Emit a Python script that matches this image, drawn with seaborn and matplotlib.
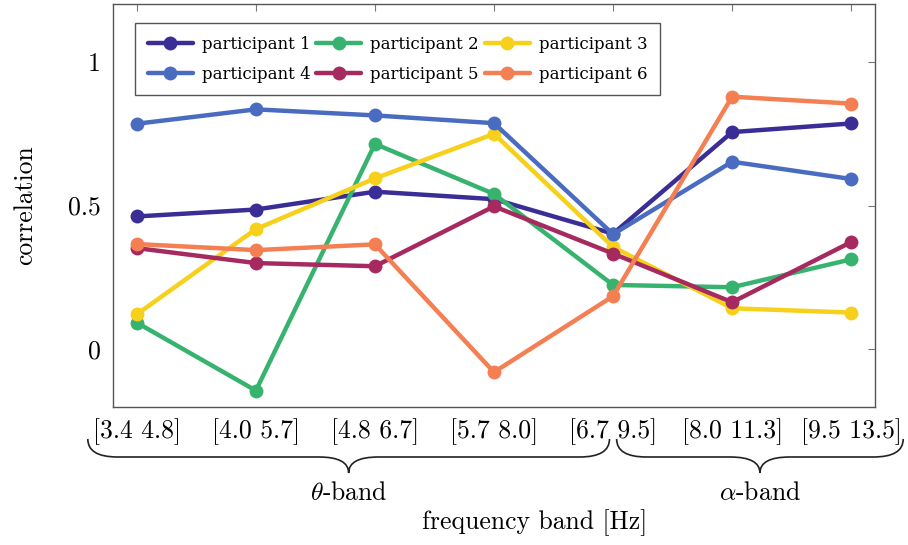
import numpy as np
import pandas as pd
import matplotlib
matplotlib.use("Agg")
import matplotlib.pyplot as plt
import matplotlib.transforms as mtransforms
from matplotlib.path import Path
from matplotlib.patches import PathPatch
import seaborn as sns

# ---------------- data ----------------
bands = ["[3.4 4.8]", "[4.0 5.7]", "[4.8 6.7]", "[5.7 8.0]",
         "[6.7 9.5]", "[8.0 11.3]", "[9.5 13.5]"]
participants = ["participant 1", "participant 2", "participant 3",
                "participant 4", "participant 5", "participant 6"]
p1 = [0.462, 0.486, 0.548, 0.522, 0.402, 0.755, 0.785]
p2 = [0.093, -0.143, 0.714, 0.540, 0.224, 0.216, 0.313]
p3 = [0.122, 0.418, 0.594, 0.749, 0.356, 0.143, 0.128]
p4 = [0.784, 0.834, 0.813, 0.786, 0.400, 0.652, 0.592]
p5 = [0.352, 0.300, 0.289, 0.497, 0.333, 0.164, 0.373]
p6 = [0.366, 0.345, 0.365, -0.079, 0.185, 0.878, 0.854]
series = [p1, p2, p3, p4, p5, p6]
colors = ["#3a2d96", "#37b36f", "#f6d01a", "#4a6cc0", "#a62a5f", "#f47f52"]
group_labels = [r"$\theta$-band", r"$\alpha$-band"]
group_members = [[0, 1, 2, 3, 4], [4, 5, 6]]
yticks = [0, 0.5, 1]

rows = []
for name, vals in zip(participants, series):
    for i, v in enumerate(vals):
        rows.append({"pos": i, "band": bands[i], "participant": name, "correlation": v})
df = pd.DataFrame(rows)

# ---------------- style ----------------
sns.set_theme(style="white")
plt.rcParams["font.family"] = ["cmr10", "DejaVu Serif"]
plt.rcParams["mathtext.fontset"] = "cm"
plt.rcParams["axes.formatter.use_mathtext"] = True

fig = plt.figure(figsize=(9.08, 5.45), dpi=100)
ax = fig.add_axes([113 / 908, 1 - 407 / 545, (875 - 113) / 908, (407 - 4) / 545])

sns.lineplot(data=df, x="pos", y="correlation", hue="participant",
             palette=dict(zip(participants, colors)), hue_order=participants,
             marker="o", markersize=10, markeredgewidth=0, linewidth=3.2,
             dashes=False, ax=ax, legend=True)

ax.set_xlim(-0.2, 6.2)
ax.set_ylim(-0.2, 1.2)
ax.set_xticks(range(len(bands)))
ax.set_xticklabels(bands)
ax.set_yticks(yticks)
ax.set_yticklabels(["0", "0.5", "1"])
ax.set_xlabel("")
ax.set_ylabel("")
ax.tick_params(axis="both", which="both", direction="in", length=5, width=0.8,
               color="#777777", top=True, right=True, labelsize=18.5,
               labelcolor="#000000")
ax.tick_params(axis="x", pad=8)
ax.tick_params(axis="y", pad=9)
for s in ax.spines.values():
    s.set_color("#555555")
    s.set_linewidth(1.0)
    s.set_visible(True)

# legend: row-wise ordering in 3 columns
handles, labels = ax.get_legend_handles_labels()
hmap = dict(zip(labels, handles))
order = [participants[i] for i in [0, 3, 1, 4, 2, 5]]
ax.legend([hmap[l] for l in order], order, ncol=3, loc="upper left",
          bbox_to_anchor=((135 - 113) / 762, (407 - 23) / 403),
          borderaxespad=0, frameon=True, fancybox=False, framealpha=1,
          edgecolor="#555555", prop={"family": "DejaVu Serif", "size": 12},
          handlelength=2.7, handletextpad=0.55, columnspacing=0.35,
          borderpad=0.75, labelspacing=0.8)
ax.get_legend().get_frame().set_linewidth(1.0)
for t in ax.get_legend().get_texts():
    t.set_color("#000000")

# ---------------- braces ----------------
trans = mtransforms.blended_transform_factory(ax.transData, fig.transFigure)
y_top, y_mid, y_tip = 1 - 439 / 545, 1 - 457 / 545, 1 - 473 / 545
r = 0.25

def brace(x0, x1):
    xm = (x0 + x1) / 2
    verts = [(x0, y_top), (x0, y_mid), (x0 + r, y_mid),
             (xm - r, y_mid),
             (xm, y_mid), (xm, y_tip),
             (xm, y_mid), (xm + r, y_mid),
             (x1 - r, y_mid),
             (x1, y_mid), (x1, y_top)]
    codes = [Path.MOVETO, Path.CURVE3, Path.CURVE3,
             Path.LINETO,
             Path.CURVE3, Path.CURVE3,
             Path.CURVE3, Path.CURVE3,
             Path.LINETO,
             Path.CURVE3, Path.CURVE3]
    patch = PathPatch(Path(verts, codes), transform=trans, fill=False,
                      edgecolor="#222222", linewidth=1.2, clip_on=False)
    fig.add_artist(patch)
    return xm

pad_l = (137 - 88) / 119
pad_r = (903 - 851) / 119
ends = [(group_members[0][0] - pad_l, group_members[0][-1] - 0.03),
        (group_members[1][0] + 0.03, group_members[1][-1] + pad_r)]
for (a, b), lab in zip(ends, group_labels):
    xm = brace(a, b)
    fig.text(xm, 1 - 493 / 545, lab, transform=trans, ha="center", va="center",
             fontsize=18.5, color="#000000")

fig.text(535 / 908, 1 - 523 / 545, "frequency band [Hz]", ha="center", va="center",
         fontsize=18.5, color="#000000")
fig.text(25 / 908, 1 - 205 / 545, "correlation", ha="center", va="center",
         rotation=90, fontsize=18.5, color="#000000")

fig.savefig("out.png", dpi=100)
